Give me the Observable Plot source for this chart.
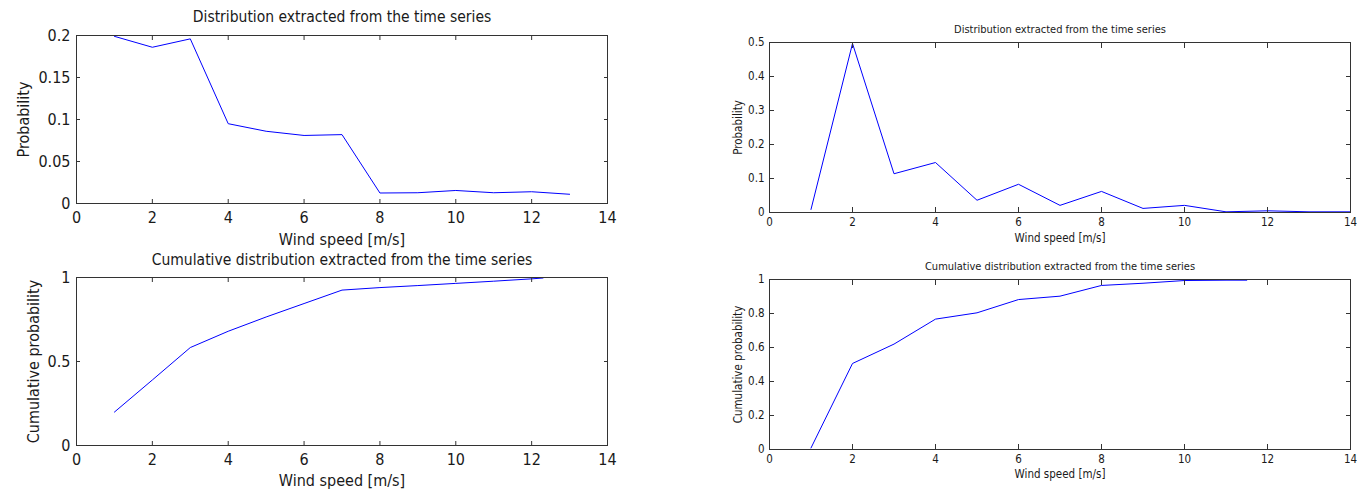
<!DOCTYPE html>
<html><head><meta charset="utf-8">
<script src="https://cdn.jsdelivr.net/npm/d3@7"></script>
<script src="https://cdn.jsdelivr.net/npm/@observablehq/plot@0.6"></script>
<style>
html,body{margin:0;padding:0;background:#fff;}
#wrap{position:relative;width:1357px;height:494px;overflow:hidden;background:#fff;}
#wrap svg{position:absolute;overflow:visible;}
</style></head><body><div id="wrap"></div>
<script>
const FONT = '"Liberation Sans Narrow","DejaVu Sans Condensed","Arial Narrow",sans-serif';

const title1 = "Distribution extracted from the time series";
const title2 = "Cumulative distribution extracted from the time series";
const xLabel = "Wind speed [m/s]";
const yLabelProb = "Probability";
const yLabelCum = "Cumulative probability";

// left: distribution
const speedsLeft = [1, 2, 3, 4, 5, 6, 7, 8, 9, 10, 11, 12, 13];
const probLeft = [0.199, 0.186, 0.196, 0.095, 0.086, 0.081, 0.082, 0.0125, 0.0128, 0.0155, 0.0128, 0.014, 0.011];
// left: cumulative
const cumSpeedsLeft = [1, 2, 3, 4, 5, 6, 7, 8, 9, 10, 11, 12, 12.3];
const cumLeft = [0.199, 0.39, 0.583, 0.68, 0.765, 0.845, 0.925, 0.94, 0.952, 0.965, 0.978, 0.992, 0.997];
// right: distribution
const speedsRight = [1, 2, 3, 4, 5, 6, 7, 8, 9, 10, 11, 12, 13, 14];
const probRight = [0.009, 0.497, 0.114, 0.147, 0.036, 0.083, 0.021, 0.062, 0.012, 0.021, 0.002, 0.005, 0.002, 0.002];
// right: cumulative
const cumSpeedsRight = [1, 2, 3, 4, 5, 6, 7, 8, 9, 10, 11, 11.5];
const cumRight = [0.009, 0.506, 0.62, 0.767, 0.804, 0.882, 0.902, 0.965, 0.978, 0.994, 0.996, 0.996];

const xTicks = [0, 2, 4, 6, 8, 10, 12, 14];
const yTicksProbLeft = [0, 0.05, 0.1, 0.15, 0.2];
const yTicksCumLeft = [0, 0.5, 1];
const yTicksProbRight = [0, 0.1, 0.2, 0.3, 0.4, 0.5];
const yTicksCumRight = [0, 0.2, 0.4, 0.6, 0.8, 1];

const fmt = d => String(+(+d).toFixed(4));
const wrap = document.getElementById("wrap");

function panel(o) {
  const data = o.xs.map((x, i) => ({x, y: o.ys[i]}));
  const t = o.tick;
  const svg = Plot.plot({
    width: o.box.w, height: o.box.h,
    marginLeft: o.box.ml, marginRight: o.box.mr, marginTop: o.box.mt, marginBottom: o.box.mb,
    style: {fontFamily: FONT, fontSize: o.fontSize + "px", color: "#1a1a1a", background: "transparent", overflow: "visible"},
    x: {domain: [0, 14], label: null},
    y: {domain: o.yDomain, label: null},
    marks: [
      Plot.line(data, {x: "x", y: "y", stroke: "#0000ff", strokeWidth: 1}),
      Plot.axisX({anchor: "bottom", ticks: xTicks, tickSize: 0, tickPadding: o.xPad, tickFormat: fmt, label: null, fontSize: o.fontSize}),
      Plot.axisX({anchor: "bottom", ticks: xTicks, tickSize: -t, tickFormat: () => "", label: null, stroke: "#333"}),
      Plot.axisX({anchor: "top", ticks: xTicks, tickSize: -t, tickFormat: () => "", label: null, stroke: "#333"}),
      Plot.axisY({anchor: "left", ticks: o.yTicks, tickSize: 0, tickPadding: o.yPad, tickFormat: fmt, label: null, fontSize: o.fontSize}),
      Plot.axisY({anchor: "left", ticks: o.yTicks, tickSize: -t, tickFormat: () => "", label: null, stroke: "#333"}),
      Plot.axisY({anchor: "right", ticks: o.yTicks, tickSize: -t, tickFormat: () => "", label: null, stroke: "#333"}),
      Plot.frame({stroke: "#333"}),
      Plot.text([o.title], {text: d => d, frameAnchor: "top", dy: o.titleDy, lineAnchor: "middle", fontSize: o.titleSize, fill: "#1a1a1a"}),
      Plot.text([xLabel], {text: d => d, frameAnchor: "bottom", dy: o.xLabelDy, lineAnchor: "middle", fontSize: o.fontSize, fill: "#1a1a1a"}),
      Plot.text([o.ylabel], {text: d => d, frameAnchor: "left", dx: o.yLabelDx, rotate: -90, textAnchor: "middle", lineAnchor: "middle", fontSize: o.fontSize, fill: "#1a1a1a"})
    ]
  });
  svg.style.left = o.box.left + "px";
  svg.style.top = o.box.top + "px";
  wrap.appendChild(svg);
}

panel({xs: speedsLeft, ys: probLeft, yDomain: [0, 0.2], yTicks: yTicksProbLeft, title: title1, ylabel: yLabelProb,
  box: {left: 0, top: 0, w: 680, h: 250, ml: 76, mr: 73, mt: 35, mb: 47},
  fontSize: 16, titleSize: 15.5, tick: 4, xPad: 8, yPad: 6, titleDy: -18, xLabelDy: 36, yLabelDx: -52.5});

panel({xs: cumSpeedsLeft, ys: cumLeft, yDomain: [0, 1], yTicks: yTicksCumLeft, title: title2, ylabel: yLabelCum,
  box: {left: 0, top: 250, w: 680, h: 244, ml: 76, mr: 73, mt: 27, mb: 49},
  fontSize: 16, titleSize: 15.5, tick: 4, xPad: 8, yPad: 6, titleDy: -17, xLabelDy: 35, yLabelDx: -43});

panel({xs: speedsRight, ys: probRight, yDomain: [0, 0.5], yTicks: yTicksProbRight, title: title1, ylabel: yLabelProb,
  box: {left: 680, top: 0, w: 677, h: 250, ml: 89, mr: 7, mt: 42, mb: 38},
  fontSize: 11.5, titleSize: 11, tick: 5, xPad: 5, yPad: 5, titleDy: -13.5, xLabelDy: 26, yLabelDx: -31.5});

panel({xs: cumSpeedsRight, ys: cumRight, yDomain: [0, 1], yTicks: yTicksCumRight, title: title2, ylabel: yLabelCum,
  box: {left: 680, top: 250, w: 677, h: 244, ml: 89, mr: 7, mt: 29, mb: 45},
  fontSize: 11.5, titleSize: 11, tick: 5, xPad: 5, yPad: 5, titleDy: -13, xLabelDy: 25, yLabelDx: -31.5});
</script>
</body></html>
